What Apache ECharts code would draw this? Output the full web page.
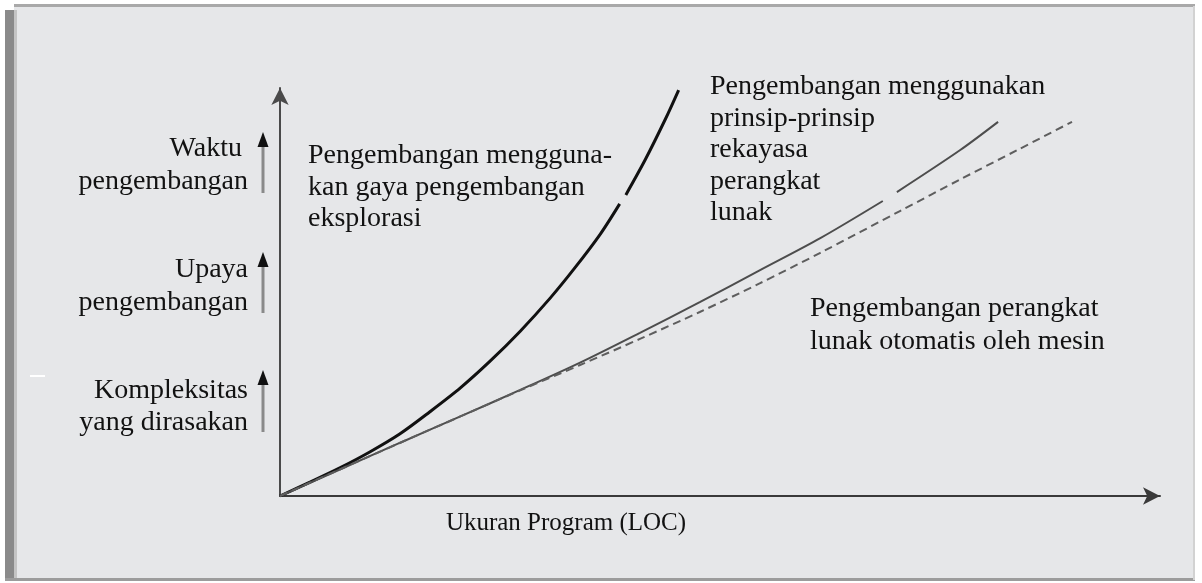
<!DOCTYPE html>
<html>
<head>
<meta charset="utf-8">
<style>
  html, body { margin: 0; padding: 0; background: #fff; }
  #chart { width: 1202px; height: 583px; }
</style>
<script src="https://cdn.jsdelivr.net/npm/echarts@6/dist/echarts.min.js"></script>
</head>
<body>
<div id="chart"></div>
<script>
// program size (x) against time / effort / complexity (y), arbitrary units 0..100
// null marks a small break in the printed line
const exploratoryX = [0, 3.4, 6.8, 10.2, 13.6, 17.0, 20.5, 23.9, 27.3, 30.7, 33.5, 36.4, 38.6, null, 39.3, 41.5, 43.8, 45.3];
const exploratoryY = [0, 3.4, 6.9, 10.8, 15.2, 20.6, 26.5, 33.1, 40.4, 48.5, 55.9, 64.2, 71.6, null, 73.8, 82.4, 92.4, 99.5];

const engineeringX = [0, 6.8, 13.6, 20.5, 27.3, 34.1, 40.9, 47.7, 54.5, 61.4, 68.5, null, 70.1, 77.3, 81.6];
const engineeringY = [0, 6.5, 13.0, 19.5, 26.0, 32.7, 40.0, 47.5, 55.3, 63.2, 72.3, null, 74.5, 84.8, 91.7];

const automatedX = [0, 6.8, 13.6, 20.5, 27.3, 34.1, 40.9, 47.7, 54.5, 61.4, 70.5, 77.3, 83.8, 90.0];
const automatedY = [0, 6.5, 13.0, 19.5, 25.9, 32.1, 38.5, 45.1, 52.1, 59.6, 69.9, 77.6, 84.8, 91.7];

const yAxisLabels = ['Waktu\npengembangan', 'Upaya\npengembangan', 'Kompleksitas\nyang dirasakan'];
const xAxisLabel = 'Ukuran Program (LOC)';
const exploratoryLabel = 'Pengembangan mengguna-\nkan gaya pengembangan\neksplorasi';
const engineeringLabel = 'Pengembangan menggunakan\nprinsip-prinsip\nrekayasa\nperangkat\nlunak';
const automatedLabel = 'Pengembangan perangkat\nlunak otomatis oleh mesin';

function pairs(xs, ys) {
    return xs.map((x, i) => (x === null ? ['-', '-'] : [x, ys[i]]));
}

const chart = echarts.init(document.getElementById('chart'));
const serif = '"Liberation Serif", "Times New Roman", serif';
const ink = '#121212';

function label(text, x, y, size, align, lineHeight) {
    return {
        type: 'text',
        z: 10,
        style: {
            text: text,
            x: x,
            y: y,
            fill: ink,
            font: size + 'px ' + serif,
            align: align,
            verticalAlign: 'top',
            lineHeight: lineHeight
        }
    };
}

function smallArrow(x, tip, bottom) {
    return [
        {
            type: 'line', z: 10,
            shape: { x1: x, y1: tip + 10, x2: x, y2: bottom },
            style: { stroke: '#8a8a8a', lineWidth: 3 }
        },
        {
            type: 'polygon', z: 10,
            shape: { points: [[x, tip], [x - 5.5, tip + 15], [x + 5.5, tip + 15]] },
            style: { fill: '#111' }
        }
    ];
}

const frame = [
    { type: 'rect', z: -100, shape: { x: 14, y: 6, width: 1181, height: 573 }, style: { fill: '#e6e7e9' } },
    { type: 'rect', z: -99, shape: { x: 14, y: 4, width: 1181, height: 3 }, style: { fill: '#a9a9a9' } },
    { type: 'rect', z: -99, shape: { x: 5, y: 10, width: 9, height: 571 }, style: { fill: '#8a8a8a' } },
    { type: 'rect', z: -99, shape: { x: 14, y: 10, width: 3, height: 569 }, style: { fill: '#c4c4c4' } },
    { type: 'rect', z: -99, shape: { x: 5, y: 578, width: 1190, height: 3 }, style: { fill: '#9c9c9c' } },
    { type: 'rect', z: -99, shape: { x: 1193, y: 6, width: 2, height: 574 }, style: { fill: '#d2d2d2' } },
    { type: 'line', z: -98, shape: { x1: 30, y1: 376, x2: 45, y2: 376 }, style: { stroke: '#fff', lineWidth: 2 } }
];

const texts = [
    label('Waktu', 242, 132, 28, 'right', 33),
    label(yAxisLabels[0].split('\n')[1], 248, 165, 28, 'right', 33),
    label(yAxisLabels[1], 248, 253, 28, 'right', 33),
    label(yAxisLabels[2], 248, 375, 28, 'right', 32),
    label(exploratoryLabel, 308, 140, 28, 'left', 31.5),
    label(engineeringLabel, 710, 71, 28, 'left', 31.5),
    label(automatedLabel, 810, 292, 28, 'left', 33),
    label(xAxisLabel, 566, 508, 25, 'center', 30)
];

const option = {
    backgroundColor: '#ffffff',
    animation: false,
    grid: { left: 280, top: 88, width: 880, height: 408 },
    xAxis: {
        type: 'value',
        min: 0,
        max: 100,
        axisLine: {
            show: true,
            symbol: ['none', 'arrow'],
            symbolSize: [13, 17],
            lineStyle: { color: '#3a3a3a', width: 2 }
        },
        axisTick: { show: false },
        axisLabel: { show: false },
        splitLine: { show: false }
    },
    yAxis: {
        type: 'value',
        min: 0,
        max: 100,
        axisLine: {
            show: true,
            symbol: ['none', 'arrow'],
            symbolSize: [13, 17],
            lineStyle: { color: '#4a4a4a', width: 2 }
        },
        axisTick: { show: false },
        axisLabel: { show: false },
        splitLine: { show: false }
    },
    graphic: { elements: frame.concat(smallArrow(263, 132, 193), smallArrow(263, 252, 313), smallArrow(263, 370, 432), texts) },
    series: [
        {
            name: 'eksplorasi',
            type: 'line',
            smooth: 0.3,
            clip: false,
            showSymbol: false,
            connectNulls: false,
            lineStyle: { color: '#111', width: 3 },
            data: pairs(exploratoryX, exploratoryY)
        },
        {
            name: 'rekayasa perangkat lunak',
            type: 'line',
            smooth: 0.3,
            clip: false,
            showSymbol: false,
            connectNulls: false,
            lineStyle: { color: '#4d4d4d', width: 2 },
            data: pairs(engineeringX, engineeringY)
        },
        {
            name: 'otomatis oleh mesin',
            type: 'line',
            smooth: 0.3,
            clip: false,
            showSymbol: false,
            lineStyle: { color: '#5e5e5e', width: 2, type: [8, 5] },
            data: pairs(automatedX, automatedY)
        }
    ]
};

chart.setOption(option);
window.addEventListener('resize', () => chart.resize());
</script>
</body>
</html>
